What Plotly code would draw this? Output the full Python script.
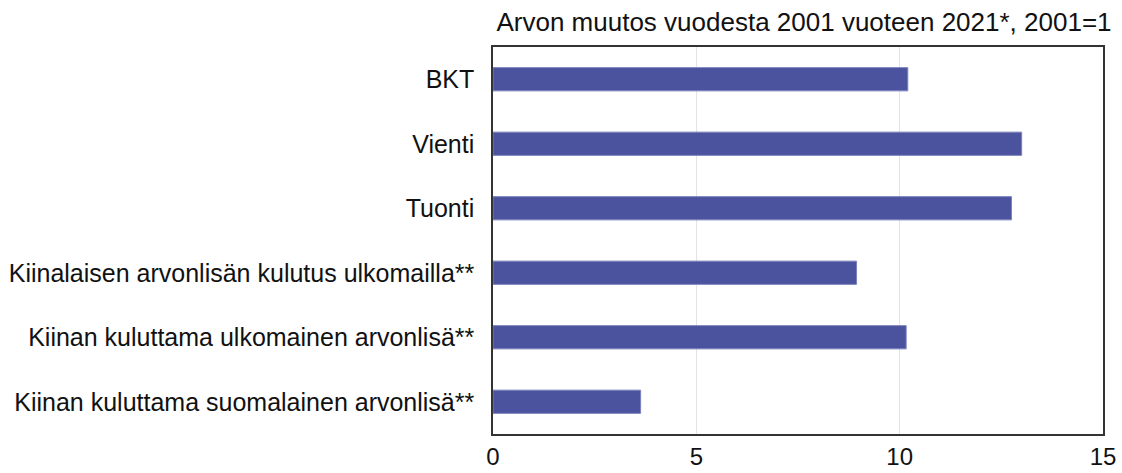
import plotly.graph_objects as go

categories = [
    "BKT",
    "Vienti",
    "Tuonti",
    "Kiinalaisen arvonlisän kulutus ulkomailla**",
    "Kiinan kuluttama ulkomainen arvonlisä**",
    "Kiinan kuluttama suomalainen arvonlisä**",
]
values = [10.2, 13.0, 12.75, 8.94, 10.16, 3.63]
x_ticks = [0, 5, 10, 15]
title_text = "Arvon muutos vuodesta 2001 vuoteen 2021*, 2001=1"

W, H = 1122, 473
L, R, T, B = 493, 19, 47, 39

fig = go.Figure(
    go.Bar(
        y=categories,
        x=values,
        orientation="h",
        marker=dict(color="#4B539E", line=dict(color="#7B82BD", width=1)),
        width=0.36,
    )
)

fig.update_layout(
    width=W,
    height=H,
    margin=dict(l=L, r=R, t=T, b=B, autoexpand=False),
    paper_bgcolor="white",
    plot_bgcolor="white",
    font=dict(family="Liberation Sans, Arial, sans-serif", size=24, color="#111111"),
    showlegend=False,
    title=dict(
        text=title_text,
        x=804 / W,
        xanchor="center",
        y=1 - 22 / H,
        yanchor="middle",
        font=dict(size=26, color="#111111"),
    ),
)

fig.update_xaxes(
    range=[0, 15],
    tickvals=x_ticks,
    ticktext=[str(t) for t in x_ticks],
    showgrid=True,
    gridcolor="#E3E3E3",
    gridwidth=1,
    zeroline=False,
    showline=True,
    linecolor="#333333",
    linewidth=1.5,
    mirror=True,
    ticks="",
    automargin=False,
    ticklabelstandoff=0,
    tickfont=dict(size=24),
)
fig.update_yaxes(
    categoryorder="array",
    categoryarray=categories[::-1],
    showgrid=False,
    zeroline=False,
    showline=True,
    linecolor="#333333",
    linewidth=1.5,
    mirror=True,
    ticks="",
    automargin=False,
    ticklabelstandoff=12,
    tickfont=dict(size=25),
)

fig.write_html(
    "out.html",
    config={"displayModeBar": False},
    post_script="document.body.style.margin='0';document.body.style.overflow='hidden';",
)
